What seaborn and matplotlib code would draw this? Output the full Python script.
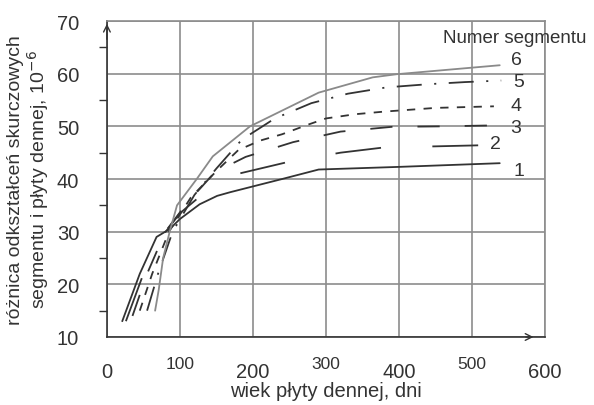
import numpy as np
import pandas as pd
import seaborn as sns
import matplotlib.pyplot as plt

# Wiek płyty dennej [dni] i różnica odkształceń [1e-6] dla segmentów 1..6
seg1_x = [21, 45, 68, 86, 100, 127, 151, 169, 240, 290, 400, 538]
seg1_y = [13, 22, 29, 30.5, 32.4, 35.2, 36.8, 37.5, 40, 41.8, 42.3, 43]

seg2_x = [26, 50, 75, 100, 130, 180, 250, 320, 380, 450, 511]
seg2_y = [13, 22, 29, 33.5, 37, 41, 43.3, 45, 46, 46.2, 46.4]

seg3_x = [35, 55, 80, 110, 148, 190, 255, 320, 390, 460, 538]
seg3_y = [14, 22, 30, 35.5, 41.3, 44.2, 47, 49, 49.9, 50, 50.2]

seg4_x = [45, 62, 85, 115, 150, 180, 210, 240, 275, 300, 340, 380, 450, 530]
seg4_y = [15, 22, 30, 36.5, 41.5, 45.5, 47.3, 48.5, 50.3, 51.5, 52.3, 52.8, 53.5, 53.8]

seg5_x = [55, 70, 90, 120, 150, 185, 230, 280, 330, 383, 440, 490, 540]
seg5_y = [15, 22, 30, 37, 42, 47.5, 51.5, 54.4, 56.2, 57.4, 58, 58.4, 58.7]

seg6_x = [66, 71, 77, 86, 96, 123, 145, 196, 290, 364, 397, 538]
seg6_y = [15, 19, 25, 30, 35, 40, 44.3, 50, 56.4, 59.3, 59.9, 61.6]

segment_names = ["1", "2", "3", "4", "5", "6"]
x_major = [0, 200, 400, 600]
x_minor = [100, 300, 500]
y_ticks = [10, 20, 30, 40, 50, 60, 70]

sns.set_theme(style="white")
plt.rcParams['font.family'] = ['Liberation Sans', 'DejaVu Sans']
plt.rcParams['lines.scale_dashes'] = False

DARK = '#333333'
GRID = '#8c8c8c'

fig = plt.figure(figsize=(5.94, 4.06), dpi=100)
ax = fig.add_axes([0.180, 0.1675, 0.7375, 0.7783])

series = [
    (seg1_x, seg1_y, DARK, None),
    (seg2_x, seg2_y, DARK, (33, 37)),
    (seg3_x, seg3_y, DARK, (16, 18)),
    (seg4_x, seg4_y, DARK, (6, 6)),
    (seg5_x, seg5_y, DARK, (18, 9, 1.5, 9)),
    (seg6_x, seg6_y, '#8a8a8a', None),
]
for xs, ys, col, dash in series:
    df = pd.DataFrame({'wiek': xs, 'eps': ys})
    sns.lineplot(data=df, x='wiek', y='eps', ax=ax, color=col, lw=1.3, sort=False)
    if dash is not None:
        ax.lines[-1].set_dashes(dash)

# numery segmentów przy końcach krzywych
label_pos = [(557, 41.6), (524, 46.8), (553, 49.7), (553, 53.9), (557, 58.6), (553, 62.7)]
for name, (lx, ly) in zip(segment_names, label_pos):
    ax.text(lx, ly, name, fontsize=14, color=DARK, ha='left', va='center')
ax.text(559, 66.9, 'Numer segmentu', fontsize=13.5, color=DARK, ha='center', va='center',
        clip_on=False)

ax.set_xlim(0, 600)
ax.set_ylim(10, 70)
ax.set_xticks(x_major, labels=[str(v) for v in x_major])
ax.set_xticks(x_minor, labels=[str(v) for v in x_minor], minor=True)
ax.set_yticks(y_ticks)
ax.set_yticks(np.array(y_ticks[:-1]) + 5, minor=True)

ax.grid(True, which='major', color=GRID, lw=1.2)
ax.xaxis.grid(True, which='minor', color=GRID, lw=1.2)
ax.tick_params(axis='x', which='major', direction='out', length=7, width=1, color=DARK,
               labelsize=14.5, labelcolor=DARK, pad=11)
ax.tick_params(axis='x', which='minor', direction='out', length=5, width=1, color=DARK,
               labelsize=12.5, labelcolor=DARK, pad=9)
ax.tick_params(axis='y', which='major', direction='out', length=11, width=1, color=DARK,
               labelsize=14.5, labelcolor=DARK, pad=9)
ax.tick_params(axis='y', which='minor', direction='out', length=6, width=1, color=DARK,
               left=True)

for side in ['left', 'bottom']:
    ax.spines[side].set_color(DARK)
    ax.spines[side].set_linewidth(1.2)
for side in ['top', 'right']:
    ax.spines[side].set_color(GRID)
    ax.spines[side].set_linewidth(1.2)

# strzałki osi
ax.annotate('', xy=(0, 70), xytext=(0, 66), arrowprops=dict(arrowstyle='->', color=DARK, lw=1))
ax.annotate('', xy=(588, 10), xytext=(570, 10), arrowprops=dict(arrowstyle='->', color=DARK, lw=1))

ax.set_xlabel('wiek płyty dennej, dni', fontsize=14.5, color=DARK, labelpad=0)
ax.set_ylabel('różnica odkształceń skurczowych\nsegmentu i płyty dennej, 10$^{-6}$',
              fontsize=14, color=DARK, labelpad=4, linespacing=1.05)

fig.savefig('out.png', dpi=100)
